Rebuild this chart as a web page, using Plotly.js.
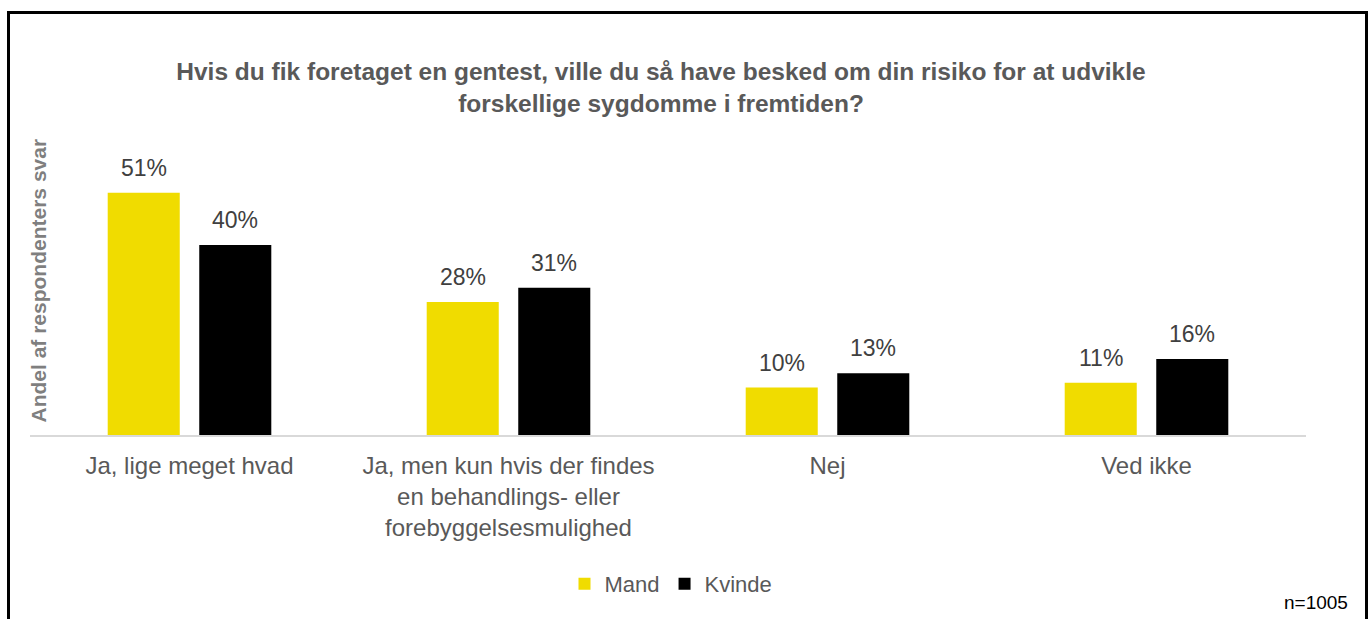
<!DOCTYPE html>
<html>
<head>
<meta charset="utf-8">
<script src="https://cdn.plot.ly/plotly-3.0.1.min.js"></script>
<style>
  html, body { margin: 0; padding: 0; background: #fff; overflow: hidden; }
  #chart { width: 1369px; height: 619px; }
  #frame { position: absolute; left: 7px; top: 11px; width: 1361px; height: 700px;
           border: 3px solid #000; box-sizing: border-box; pointer-events: none; }
</style>
</head>
<body>
<div id="chart"></div>
<div id="frame"></div>
<script>
const categories = [
  "Ja, lige meget hvad",
  "Ja, men kun hvis der findes<br>en behandlings- eller<br>forebyggelsesmulighed",
  "Nej",
  "Ved ikke"
];
const seriesNames = ["Mand", "Kvinde"];
const mandValues = [51, 28, 10, 11];
const kvindeValues = [40, 31, 13, 16];
const seriesColors = ["#F0DC00", "#000000"];

const titleText = "Hvis du fik foretaget en gentest, ville du så have besked om din risiko for at udvikle<br>forskellige sygdomme i fremtiden?";
const yTitleText = "Andel af respondenters svar";
const noteText = "n=1005";

const W = 1369, H = 619;
const margin = { l: 30, r: 63, t: 150, b: 184 };
const bargap = 0.426;
const plotW = W - margin.l - margin.r;
const plotH = H - margin.t - margin.b;
const catW = plotW / categories.length;
const slot = catW * (1 - bargap) / 2;

const fontFam = "Liberation Sans, Arial, sans-serif";

const traces = [
  { type: "bar", name: seriesNames[0], x: categories, y: mandValues,
    marker: { color: seriesColors[0] }, hoverinfo: "none" },
  { type: "bar", name: seriesNames[1], x: categories, y: kvindeValues,
    marker: { color: seriesColors[1] }, hoverinfo: "none" }
];

const annotations = [];
[mandValues, kvindeValues].forEach((vals, si) => {
  vals.forEach((v, i) => {
    annotations.push({
      x: categories[i], y: v, xref: "x", yref: "y",
      text: v + "%", showarrow: false,
      xshift: (si === 0 ? -1 : 1) * slot / 2,
      yanchor: "middle", yshift: 25,
      font: { family: fontFam, size: 23, color: "#404040" }
    });
  });
});
annotations.push({
  xref: "paper", yref: "paper",
  x: (37.5 - margin.l) / plotW, y: (H - margin.b - 281) / plotH,
  text: "<b>" + yTitleText + "</b>", textangle: -90, showarrow: false,
  xanchor: "center", yanchor: "middle",
  font: { family: fontFam, size: 21, color: "#7f7f7f" }
});
annotations.push({
  xref: "paper", yref: "paper",
  x: (1350 - margin.l) / plotW, y: (H - margin.b - 602) / plotH,
  text: noteText, showarrow: false, xanchor: "right", yanchor: "middle",
  font: { family: fontFam, size: 19, color: "#000000" }
});

const layout = {
  width: W, height: H,
  margin: margin,
  paper_bgcolor: "#ffffff", plot_bgcolor: "#ffffff",
  font: { family: fontFam },
  title: {
    text: "<b>" + titleText + "</b>",
    xref: "container", x: 661 / W, xanchor: "center",
    yref: "container", y: 1 - 80 / H, yanchor: "top",
    font: { family: fontFam, size: 24.5, color: "#595959" }
  },
  barmode: "group",
  bargap: bargap,
  bargroupgap: 0.213,
  xaxis: {
    showline: true, linecolor: "#d9d9d9", linewidth: 2,
    ticks: "", showgrid: false, zeroline: false,
    ticklabelstandoff: 8,
    tickfont: { family: fontFam, size: 24, color: "#595959" },
    fixedrange: true
  },
  yaxis: {
    range: [0, 60], visible: false, showgrid: false, zeroline: false, fixedrange: true
  },
  showlegend: true,
  legend: {
    orientation: "h", x: (671 - margin.l) / plotW, xanchor: "center",
    y: (H - margin.b - 584) / plotH, yanchor: "middle",
    font: { family: fontFam, size: 22, color: "#595959" },
    itemwidth: 30, traceorder: "normal"
  },
  annotations: annotations
};

Plotly.newPlot("chart", traces, layout, { displayModeBar: false, staticPlot: true });
</script>
</body>
</html>
